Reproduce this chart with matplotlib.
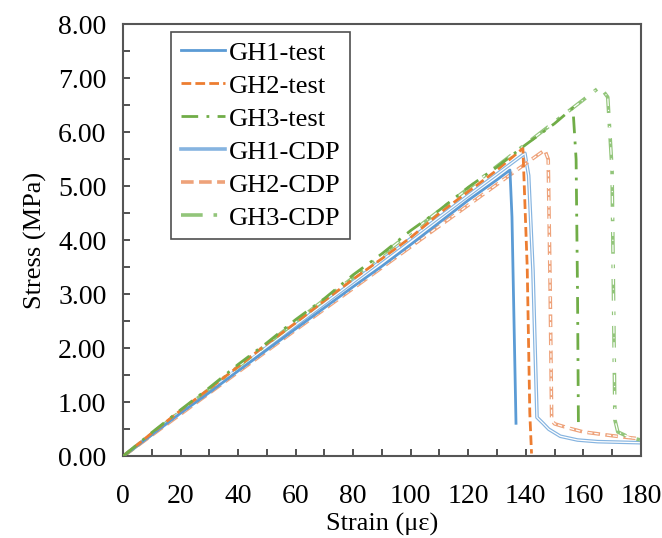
import numpy as np
import matplotlib
matplotlib.use("Agg")
import matplotlib.pyplot as plt
from matplotlib.ticker import MultipleLocator, FormatStrFormatter

plt.rcParams['font.family'] = ['Liberation Serif', 'DejaVu Serif']

# test curves (strain in micro-strain, stress in MPa)
gh1_test_x = [0, 10, 20, 30, 40, 50, 60, 70, 80, 90, 100, 110, 120, 130, 134.5, 135.2, 136.6]
gh1_test_y = [0, 0.40, 0.80, 1.18, 1.58, 1.97, 2.36, 2.75, 3.14, 3.52, 3.92, 4.33, 4.74, 5.12, 5.30, 4.43, 0.61]

gh2_test_x = [0, 10, 20, 30, 40, 50, 60, 70, 80, 90, 100, 110, 120, 130, 139, 140.5, 141.4, 142]
gh2_test_y = [0, 0.43, 0.85, 1.25, 1.66, 2.08, 2.47, 2.88, 3.28, 3.66, 4.05, 4.50, 4.90, 5.30, 5.70, 3.50, 0.80, 0.05]

gh3_test_x = [0, 10, 20, 30, 40, 50, 60, 70, 80, 90, 100, 110, 120, 130, 140, 150, 156.4, 157.5, 158, 158.3]
gh3_test_y = [0, 0.44, 0.86, 1.27, 1.70, 2.10, 2.53, 2.92, 3.36, 3.75, 4.18, 4.56, 4.98, 5.36, 5.77, 6.16, 6.45, 5.50, 3.00, 0.62]

# CDP simulations
gh1_cdp_x = [0, 20, 40, 60, 80, 100, 120, 139.7, 141, 142.5, 143.9, 146, 148, 152, 158, 165, 180]
gh1_cdp_y = [0, 0.81, 1.62, 2.43, 3.23, 4.03, 4.83, 5.61, 5.20, 3.44, 0.72, 0.61, 0.50, 0.37, 0.30, 0.27, 0.25]

gh2_cdp_x = [0, 20, 40, 60, 80, 100, 120, 140, 146.6, 147.8, 148.5, 149, 150, 155, 160, 170, 180]
gh2_cdp_y = [0, 0.78, 1.56, 2.34, 3.11, 3.88, 4.65, 5.42, 5.67, 5.50, 3.00, 0.67, 0.60, 0.52, 0.45, 0.38, 0.32]

gh3_cdp_x = [0, 20, 40, 60, 80, 100, 120, 140, 160, 165.8, 168.5, 170, 171, 172, 176, 180]
gh3_cdp_y = [0, 0.83, 1.66, 2.49, 3.31, 4.14, 4.96, 5.78, 6.60, 6.84, 6.65, 5.30, 0.67, 0.45, 0.35, 0.30]

blue = '#5B9BD5'
orange = '#ED7D31'
green = '#70AD47'
blue_l = '#86b4e0'
orange_l = '#eea27a'
green_l = '#92c57a'

fig = plt.figure(figsize=(6.62, 5.38), dpi=100)
ax = fig.add_axes([0.186, 0.152, 0.782, 0.803])

dash2 = (0, (3.5, 1.5))
dashdot = (0, (6, 3, 1, 3))

# CDP drawn as hollow (double) lines
def hollow(x, y, color, ls, label):
    ax.plot(x, y, color=color, lw=2.6, ls=ls, label=label)
    ax.plot(x, y, color='white', lw=0.9, ls=ls)

ax.plot(gh1_test_x, gh1_test_y, color=blue, lw=2.0, ls='-', label='GH1-test', zorder=3)
ax.plot(gh2_test_x, gh2_test_y, color=orange, lw=2.0, ls=dash2, label='GH2-test', zorder=3)
ax.plot(gh3_test_x, gh3_test_y, color=green, lw=2.0, ls=dashdot, label='GH3-test', zorder=3)
hollow(gh1_cdp_x, gh1_cdp_y, blue_l, '-', 'GH1-CDP')
hollow(gh2_cdp_x, gh2_cdp_y, orange_l, dash2, 'GH2-CDP')
hollow(gh3_cdp_x, gh3_cdp_y, green_l, dashdot, 'GH3-CDP')

ax.set_xlim(0, 180)
ax.set_ylim(0, 8)
ax.xaxis.set_major_locator(MultipleLocator(20))
ax.xaxis.set_minor_locator(MultipleLocator(10))
ax.yaxis.set_major_locator(MultipleLocator(1))
ax.yaxis.set_minor_locator(MultipleLocator(0.5))
ax.yaxis.set_major_formatter(FormatStrFormatter('%.2f'))
ax.tick_params(which='both', direction='in', length=5, width=1.2, color='#333333',
               labelsize=20, top=False, right=False)
ax.tick_params(axis='x', which='major', pad=20)
ax.tick_params(axis='y', which='major', pad=12)
for s in ax.spines.values():
    s.set_color('#555555')
    s.set_linewidth(1.5)

ax.set_xlabel('Strain (\u03bc\u03b5)', fontsize=19, labelpad=3)
ax.set_ylabel('Stress (MPa)', fontsize=19, labelpad=8)

leg = ax.legend(loc='upper left', bbox_to_anchor=(0.093, 0.982), fontsize=19, frameon=True,
                fancybox=False, edgecolor='#222222', handlelength=1.7, labelspacing=0.36,
                borderpad=0.35, handletextpad=0.15, borderaxespad=0)
leg.get_frame().set_linewidth(1.2)

fig.savefig('out.png', dpi=100)
